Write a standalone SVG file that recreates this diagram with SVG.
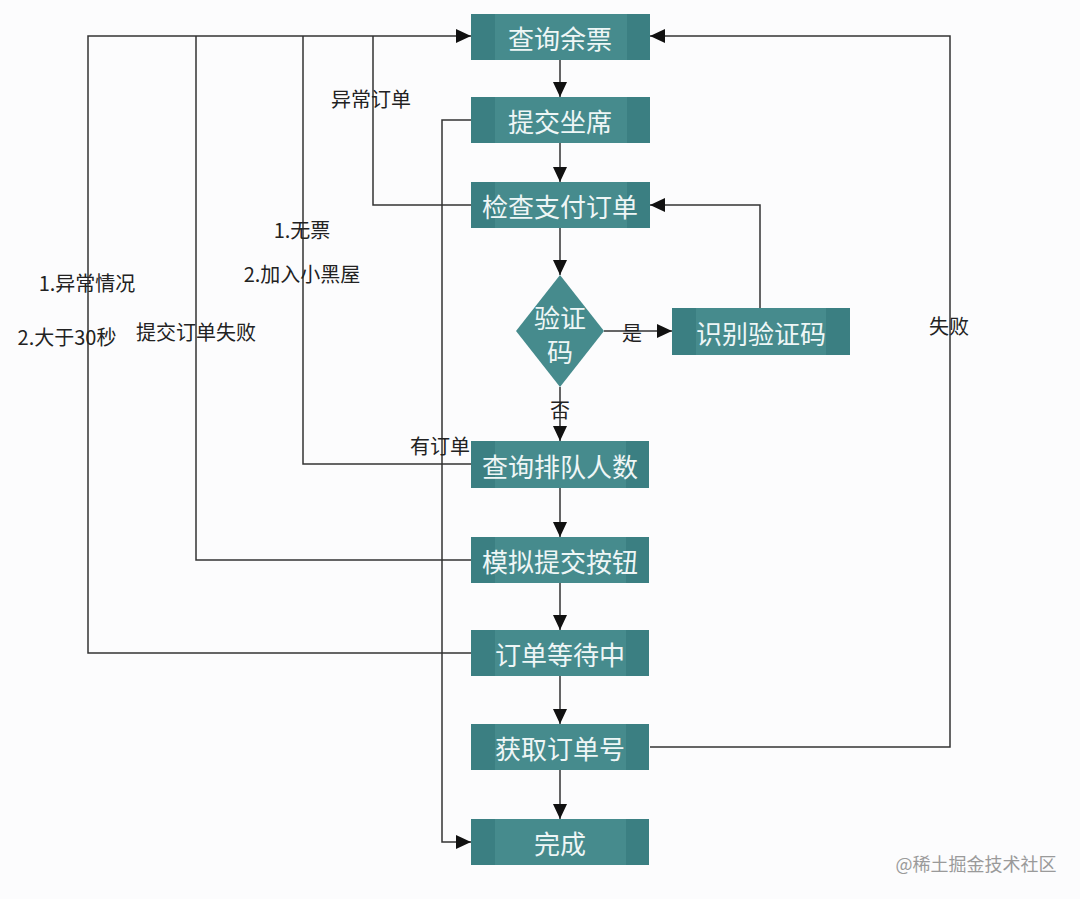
<svg xmlns="http://www.w3.org/2000/svg" width="1080" height="899" viewBox="0 0 1080 899">
<style>
.bg{fill:#fcfcfd}
.main{fill:#468b8d}
.band{fill:#3b7f82}
.nt{font-family:"Noto Sans CJK SC","Liberation Sans",sans-serif;font-size:26px;fill:#eef6f6;text-anchor:middle;dominant-baseline:central}
.lb{font-family:"Noto Sans CJK SC","Liberation Sans",sans-serif;font-size:20px;fill:#222;text-anchor:middle;dominant-baseline:central}
.wm{font-family:"Noto Sans CJK SC","Liberation Sans",sans-serif;font-size:18px;fill:#9a9a9a;text-anchor:middle;dominant-baseline:central}
.ln{fill:none;stroke:#333;stroke-width:1.5}
.ar{fill:none;stroke:#333;stroke-width:1.5;marker-end:url(#arr)}
</style>
<defs>
<marker id="arr" markerWidth="16" markerHeight="16" refX="15" refY="7" orient="auto" markerUnits="userSpaceOnUse">
<path d="M0,0 L15,7 L0,14 Z" fill="#111"/>
</marker>
</defs>
<rect class="bg" x="0" y="0" width="1080" height="899"/>

<g id="connectors">
<line class="ar" x1="560" y1="60" x2="560" y2="97"/>
<line class="ar" x1="560" y1="143" x2="560" y2="182"/>
<line class="ar" x1="560" y1="228" x2="560" y2="275"/>
<line class="ar" x1="560" y1="387" x2="560" y2="441"/>
<line class="ar" x1="560" y1="488" x2="560" y2="537"/>
<line class="ar" x1="560" y1="583" x2="560" y2="630"/>
<line class="ar" x1="560" y1="676" x2="560" y2="724"/>
<line class="ar" x1="560" y1="770" x2="560" y2="819"/>
<line class="ar" x1="604" y1="331" x2="672" y2="331"/>
<polyline class="ar" points="760,308 760,205 650,205"/>
<polyline class="ar" points="471,653 88,653 88,36 471,36"/>
<polyline class="ln" points="471,560 196,560 196,36"/>
<polyline class="ln" points="471,464 303,464 303,36"/>
<polyline class="ln" points="471,205 373,205 373,36"/>
<polyline class="ar" points="471,120 442,120 442,842 471,842"/>
<polyline class="ar" points="650,747 950,747 950,36 650,36"/>
</g>

<g id="n1"><rect class="main" x="471" y="14" width="179" height="46"/><rect class="band" x="471" y="14" width="24" height="46"/><rect class="band" x="627" y="14" width="23" height="46"/><text class="nt" x="560" y="37">查询余票</text></g>
<g id="n2"><rect class="main" x="471" y="97" width="179" height="46"/><rect class="band" x="471" y="97" width="24" height="46"/><rect class="band" x="627" y="97" width="23" height="46"/><text class="nt" x="560" y="120">提交坐席</text></g>
<g id="n3"><rect class="main" x="471" y="182" width="179" height="46"/><rect class="band" x="471" y="182" width="24" height="46"/><rect class="band" x="627" y="182" width="23" height="46"/><text class="nt" x="560" y="205">检查支付订单</text></g>
<g id="n4"><polygon class="main" points="560,275 604,331 560,387 516,331"/><text class="nt" x="560" y="316">验证</text><text class="nt" x="560" y="350">码</text></g>
<g id="n5"><rect class="main" x="672" y="308" width="178" height="47"/><rect class="band" x="672" y="308" width="24" height="47"/><rect class="band" x="826" y="308" width="24" height="47"/><text class="nt" x="761" y="332">识别验证码</text></g>
<g id="n6"><rect class="main" x="471" y="441" width="178" height="47"/><rect class="band" x="471" y="441" width="24" height="47"/><rect class="band" x="626" y="441" width="23" height="47"/><text class="nt" x="560" y="465">查询排队人数</text></g>
<g id="n7"><rect class="main" x="471" y="537" width="178" height="46"/><rect class="band" x="471" y="537" width="24" height="46"/><rect class="band" x="626" y="537" width="23" height="46"/><text class="nt" x="560" y="560">模拟提交按钮</text></g>
<g id="n8"><rect class="main" x="471" y="630" width="178" height="46"/><rect class="band" x="471" y="630" width="24" height="46"/><rect class="band" x="626" y="630" width="23" height="46"/><text class="nt" x="560" y="653">订单等待中</text></g>
<g id="n9"><rect class="main" x="471" y="724" width="178" height="46"/><rect class="band" x="471" y="724" width="24" height="46"/><rect class="band" x="626" y="724" width="23" height="46"/><text class="nt" x="560" y="747">获取订单号</text></g>
<g id="n10"><rect class="main" x="471" y="819" width="178" height="46"/><rect class="band" x="471" y="819" width="24" height="46"/><rect class="band" x="626" y="819" width="23" height="46"/><text class="nt" x="560" y="842">完成</text></g>

<g id="labels">
<text class="lb" x="371" y="98">异常订单</text>
<text class="lb" x="302" y="229">1.无票</text>
<text class="lb" x="302" y="273">2.加入小黑屋</text>
<text class="lb" x="87" y="282">1.异常情况</text>
<text class="lb" x="67" y="336">2.大于30秒</text>
<text class="lb" x="196" y="331">提交订单失败</text>
<text class="lb" x="440" y="445">有订单</text>
<text class="lb" x="632" y="332">是</text>
<text class="lb" x="560" y="409">否</text>
<text class="lb" x="949" y="325">失败</text>
<text class="wm" x="976" y="863">@稀土掘金技术社区</text>
</g>
</svg>
